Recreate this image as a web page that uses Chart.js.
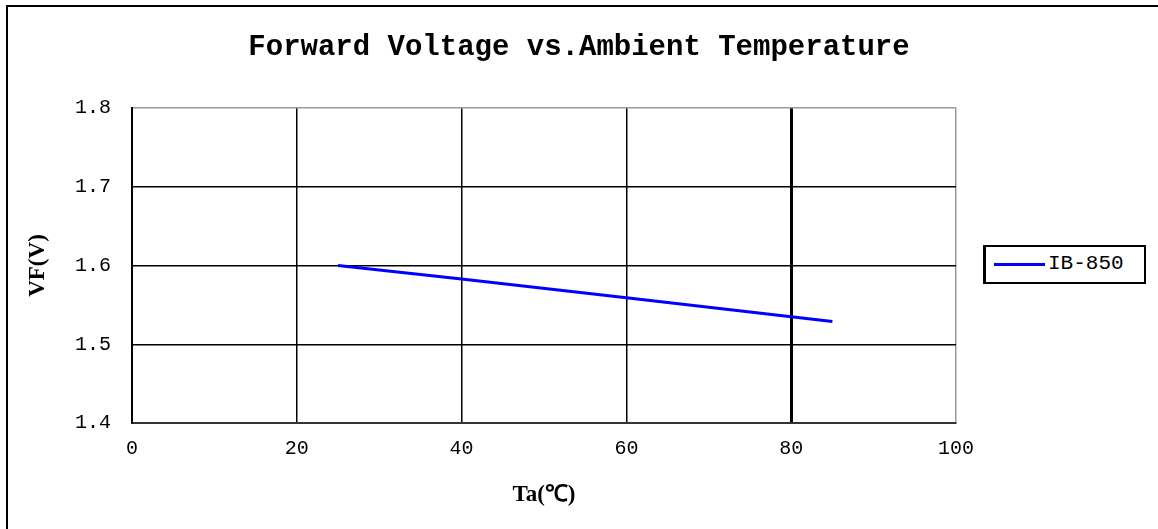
<!DOCTYPE html>
<html>
<head>
<meta charset="utf-8">
<script src="https://cdn.jsdelivr.net/npm/chart.js@4"></script>
<style>
  html, body { margin: 0; padding: 0; background: #fff; }
  body { width: 1158px; height: 529px; position: relative; overflow: hidden; }
  #frame { position: absolute; left: 6px; top: 5px; right: -10px; bottom: -10px;
           border-left: 2px solid #000; border-top: 2px solid #000; }
  #wrap { position: absolute; left: 0; top: 0; width: 1158px; height: 529px; }
  #title { position: absolute; left: 0; width: 1158px; top: 31px; text-align: center;
           font: bold 29px "Liberation Mono", monospace; color: #000; }
  #legend { position: absolute; left: 983px; top: 245px; width: 158px; height: 35px;
            border: 2px solid #000; border-left-width: 3px; background: #fff; }
  #legend .swatch { position: absolute; left: 8px; top: 16px; width: 51px; height: 3px; background: #0000ff; }
  #legend .label { position: absolute; left: 62px; top: 5px; font: 21px "Liberation Mono", monospace; color: #000; }
</style>
</head>
<body>
<div id="frame"></div>
<div id="wrap"><canvas id="chart"></canvas></div>
<div id="title">Forward Voltage vs.Ambient Temperature</div>
<div id="legend"><div class="swatch"></div><div class="label">IB-850</div></div>
<script>
const seriesName = 'IB-850';
const temps = [25, 40, 60, 80, 85];
const vf = [1.600, 1.583, 1.559, 1.535, 1.529];
const xTicks = [0, 20, 40, 60, 80, 100];
const yTicks = [1.4, 1.5, 1.6, 1.7, 1.8];

const points = temps.map((t, i) => ({ x: t, y: vf[i] }));

new Chart(document.getElementById('chart'), {
    type: 'line',
    data: {
        datasets: [{
            label: seriesName,
            data: points,
            borderColor: '#0000ff',
            borderWidth: 3,
            pointRadius: 0,
            tension: 0
        }]
    },
    options: {
        responsive: true,
        maintainAspectRatio: false,
        animation: false,
        layout: { padding: { left: 20, top: 108, right: 202, bottom: 20 } },
        plugins: { legend: { display: false }, tooltip: { enabled: false } },
        scales: {
            x: {
                type: 'linear',
                min: xTicks[0],
                max: xTicks[xTicks.length - 1],
                afterBuildTicks: s => { s.ticks = xTicks.map(v => ({ value: v })); },
                afterFit: s => { s.height = 529 - 20 - 423; },
                grid: {
                    drawTicks: false,
                    color: c => (c.tick && c.tick.value === 100) ? '#999' : '#000',
                    lineWidth: c => (c.tick && c.tick.value === 80) ? 3 : 1.5
                },
                border: { color: '#333', width: 2 },
                ticks: { padding: 14, color: '#000', font: { family: 'Liberation Mono', size: 20 } },
                title: {
                    display: true, text: 'Ta(℃)', color: '#000',
                    font: { family: 'Liberation Serif', size: 23, weight: 'bold' },
                    padding: { top: 0, bottom: 0 }
                }
            },
            y: {
                min: yTicks[0],
                max: yTicks[yTicks.length - 1],
                afterBuildTicks: s => { s.ticks = yTicks.map(v => ({ value: v })); },
                afterFit: s => { s.width = 132 - 20; },
                grid: {
                    drawTicks: false,
                    color: c => (c.tick && Math.abs(c.tick.value - 1.8) < 1e-6) ? '#999' : '#000',
                    lineWidth: 1.5
                },
                border: { color: '#000', width: 2 },
                ticks: {
                    padding: 21, color: '#000',
                    font: { family: 'Liberation Mono', size: 20 },
                    callback: v => v.toFixed(1)
                },
                title: {
                    display: true, text: 'VF(V)', color: '#000',
                    font: { family: 'Liberation Serif', size: 23, weight: 'bold' },
                    padding: { top: 4, bottom: 0 }
                }
            }
        }
    }
});
</script>
</body>
</html>
